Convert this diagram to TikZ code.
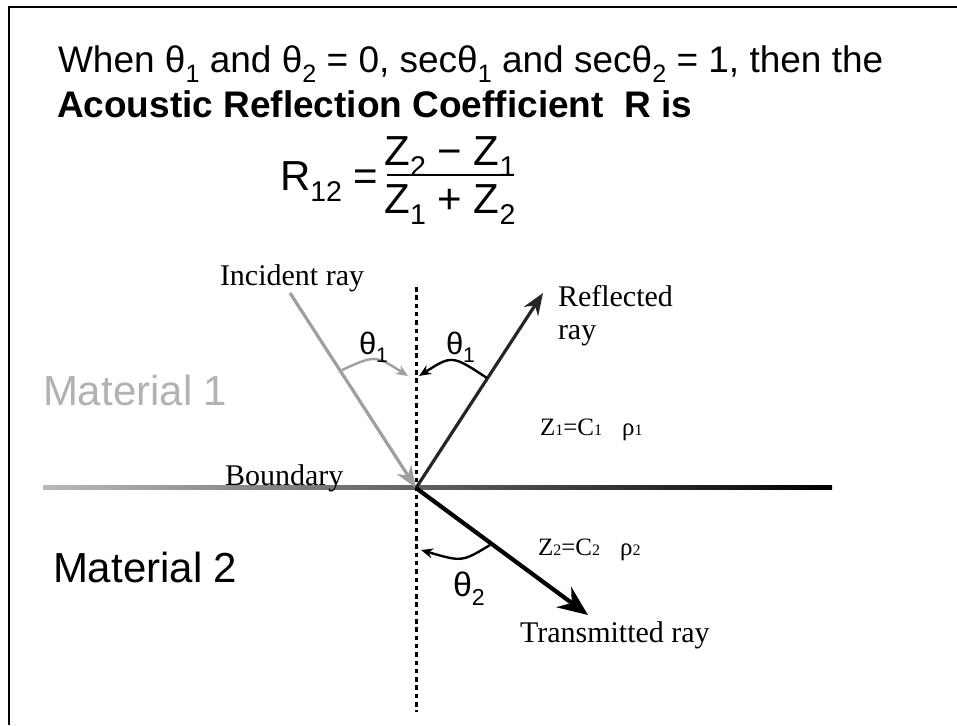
\documentclass[tikz,border=0pt]{standalone}
\usepackage{fontspec}
\setmainfont{Liberation Serif}
\setsansfont{Liberation Sans}
\usetikzlibrary{arrows.meta}
\newcommand{\lsb}[1]{\raisebox{-0.28em}{\scalebox{0.68}{#1}}}
\newcommand{\tsb}[1]{{\fontsize{16}{16}\selectfont #1}}
\begin{document}
\begin{tikzpicture}[x=1pt,y=-1pt,
  every node/.style={inner sep=0pt, outer sep=0pt},
  title/.style={anchor=base west, font=\sffamily\fontsize{37}{44}\selectfont},
  titlebf/.style={anchor=base west, font=\sffamily\bfseries\fontsize{37}{44}\selectfont},
  formula/.style={font=\sffamily\fontsize{42}{48}\selectfont},
  lbl/.style={anchor=base west, font=\rmfamily\fontsize{30}{32}\selectfont},
  zlbl/.style={anchor=base west, font=\rmfamily\fontsize{25}{28}\selectfont},
  mat/.style={anchor=base west, font=\sffamily\fontsize{42}{48}\selectfont},
  thl/.style={anchor=base west, font=\sffamily\fontsize{31}{36}\selectfont},
  ray/.style={line width=3.2pt},
  arcarrow/.style={line width=2.4pt, -{Stealth[length=12pt,width=10pt]}},
]
\useasboundingbox (0,0) rectangle (957,725);
\fill[white] (0,0) rectangle (957,725);
% frame
\draw[line width=2.5pt] (9,725) -- (9,7) -- (957,7);

% title
\node[title] (t1) at (58,72) {When θ\lsb{1} and θ\lsb{2} = 0, secθ\lsb{1} and secθ\lsb{2} = 1, then the};
\node[titlebf] (t2) at (57,117) {Acoustic Reflection Coefficient\ \ R is};

% formula
\node[formula, anchor=base west] (R) at (280,190) {R\lsb{12}};
\node[formula, anchor=base] (eq) at (366,190) {=};
\node[formula, anchor=base] (num) at (450,165) {Z\lsb{2} − Z\lsb{1}};
\node[formula, anchor=base] (den) at (450,213) {Z\lsb{1} + Z\lsb{2}};
\coordinate (fbl) at (387,175);
\coordinate (fbr) at (513,175);
\draw[line width=2.5pt] (fbl) -- (fbr);

% geometry
\coordinate (O) at (416,488);
\coordinate (inc) at (290,293);
\coordinate (refl) at (543,293);
\coordinate (trans) at (588,615);
\coordinate (ntop) at (416,287);
\coordinate (nbot) at (416,712);

% boundary
\shade[left color=gray!55, right color=black] (43,485.5) rectangle (832,489.5);

% normal
\draw[line width=3pt, dash pattern=on 4.5pt off 3.8pt] (ntop) -- (nbot);

% rays
\draw[ray, gray!75, -{Stealth[length=22pt,width=17pt]}] (inc) -- (O);
\draw[ray, black!85, -{Stealth[length=22pt,width=17pt]}] (O) -- (refl);
\draw[line width=4.2pt, -{Stealth[length=30pt,width=25pt]}] (O) -- (trans);

% angle arcs
\coordinate (a1s) at (342,370);
\coordinate (a1e) at (408,376);
\coordinate (a2s) at (487,378);
\coordinate (a2e) at (419,376);
\coordinate (a3s) at (490,545);
\coordinate (a3e) at (421,550);
\draw[arcarrow, gray!75] (a1s) .. controls (375,355) .. (a1e);
\draw[arcarrow] (a2s) .. controls (452,355) .. (a2e);
\draw[arcarrow] (a3s) .. controls (462,562) .. (a3e);

% angle labels
\node[thl] (th1a) at (359,354) {θ\lsb{1}};
\node[thl] (th1b) at (446,354) {θ\lsb{1}};
\node[thl, font=\sffamily\fontsize{34}{38}\selectfont] (th2) at (453,596) {θ\lsb{2}};

% labels
\node[lbl] (inclbl) at (220,285) {Incident ray};
\node[lbl] (refllbl) at (558,306) {Reflected};
\node[lbl] (refllbl2) at (558,339) {ray};
\node[lbl] (bdy) at (225,485) {Boundary};
\node[lbl] (trlbl) at (520,642) {Transmitted ray};
\node[zlbl] (z1) at (540,435) {Z\tsb{1}=C\tsb{1}\hspace{20pt}ρ\tsb{1}};
\node[zlbl] (z2) at (538,555) {Z\tsb{2}=C\tsb{2}\hspace{20pt}ρ\tsb{2}};

% materials
\node[mat, text=gray!60] (m1) at (43,405) {Material 1};
\node[mat] (m2) at (53,582) {Material 2};
\end{tikzpicture}
\end{document}
